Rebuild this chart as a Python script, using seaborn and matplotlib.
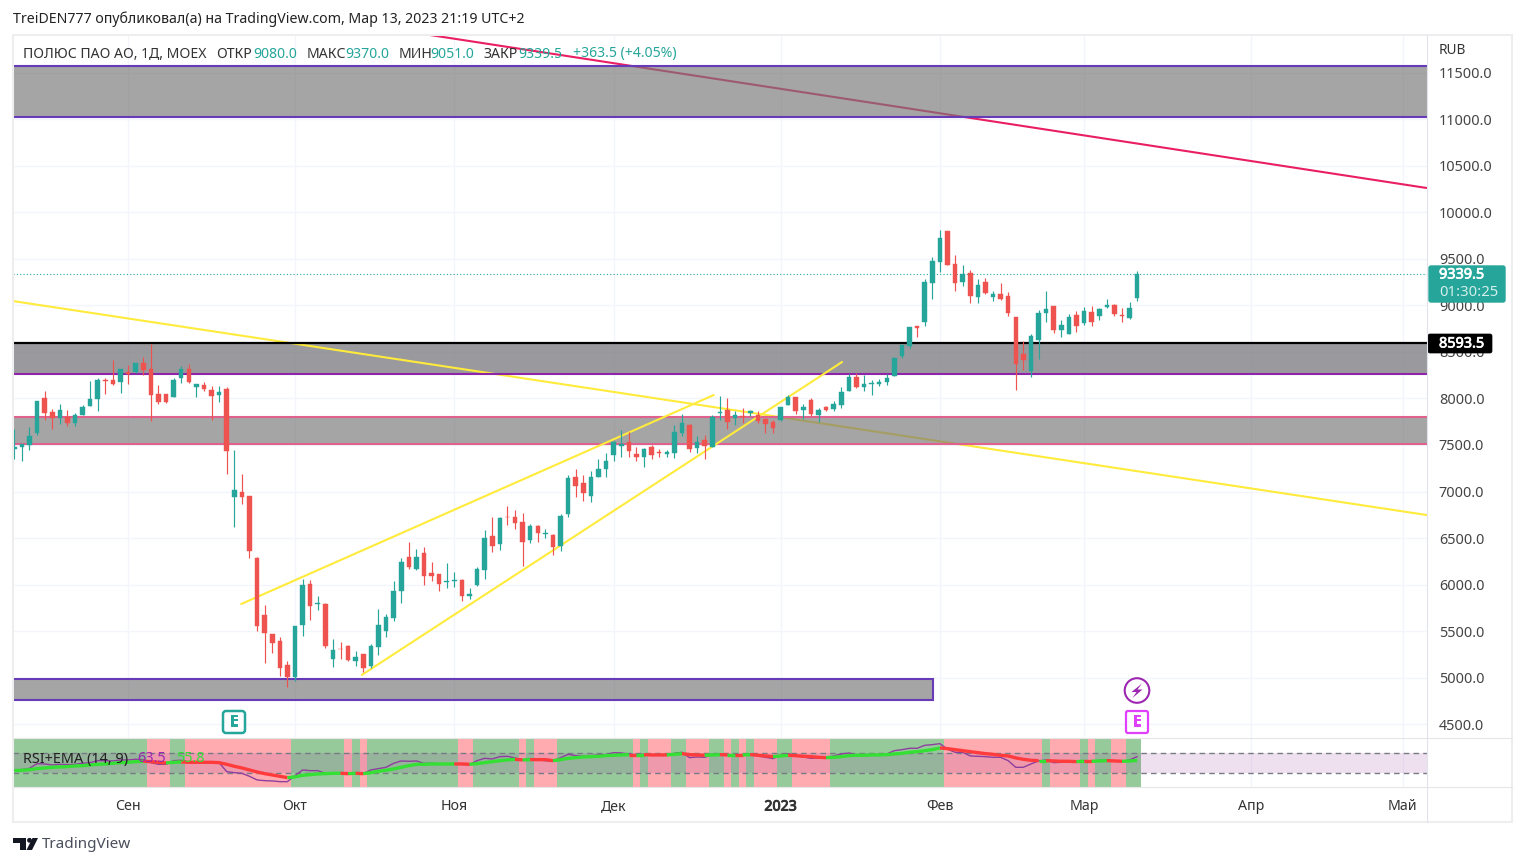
import matplotlib
matplotlib.use('Agg')
import matplotlib.pyplot as plt
import matplotlib.patheffects as pe
from matplotlib.patches import Rectangle, FancyBboxPatch, Circle, Polygon
import numpy as np
import pandas as pd
import seaborn as sns

# candles, one value per trading day
opens = [7455, 7477, 7502, 7627, 8007, 7849, 7789, 7799, 7731, 7821,
         7918, 7989, 8194, 8194, 8172, 8280, 8280, 8376, 8312, 8043,
         8043, 8014, 8215, 8312, 8122, 8140, 8093, 8036, 8097, 6939,
         7000, 6950, 6290, 5678, 5470, 5398, 5140, 5011, 5570, 6011,
         5789, 5796, 5204, 5312, 5337, 5183, 5258, 5129, 5333, 5506,
         5645, 5936, 6301, 6172, 6344, 6129, 6118, 6025, 6036, 6054,
         5882, 6000, 6161, 6527, 6441, 6731, 6731, 6677, 6480, 6634,
         6548, 6538, 6419, 6753, 7151, 7086, 6957, 7158, 7237, 7387,
         7484, 7527, 7398, 7366, 7473, 7419, 7398, 7409, 7624, 7710,
         7462, 7548, 7473, 7839, 7871, 7792, 7806, 7839, 7817, 7774,
         7742, 7763, 7925, 8011, 7871, 7978, 7817, 7903, 7882, 7925,
         8075, 8226, 8118, 8158, 8151, 8179, 8240, 8452, 8559, 8774,
         8817, 9236, 9462, 9796, 9441, 9247, 9344, 9086, 9247, 9086,
         9118, 9097, 8871, 8473, 8290, 8624, 8914, 8989, 8731, 8688,
         8892, 8806, 8925, 8882, 8978, 9000, 8892, 8860, 9080]
closes = [7473, 7505, 7599, 7971, 7842, 7792, 7878, 7735, 7817, 7903,
          7996, 8194, 8186, 8158, 8312, 8265, 8376, 8301, 8036, 7957,
          7957, 8201, 8312, 8172, 8151, 8097, 8025, 8065, 7434, 7011,
          6939, 6359, 5559, 5477, 5377, 5101, 5004, 5559, 6000, 5774,
          5807, 5344, 5301, 5305, 5190, 5226, 5108, 5344, 5570, 5656,
          5936, 6247, 6194, 6301, 6097, 6097, 6011, 6043, 6054, 5882,
          5903, 6172, 6505, 6419, 6710, 6724, 6667, 6462, 6634, 6559,
          6559, 6409, 6742, 7140, 7054, 6989, 7151, 7237, 7333, 7527,
          7505, 7430, 7366, 7452, 7387, 7409, 7419, 7634, 7731, 7452,
          7527, 7484, 7796, 7849, 7742, 7817, 7799, 7860, 7753, 7720,
          7677, 7903, 8011, 7860, 7903, 7828, 7871, 7871, 7935, 8065,
          8226, 8118, 8151, 8165, 8179, 8215, 8430, 8570, 8763, 8756,
          9247, 9473, 9720, 9430, 9236, 9333, 9097, 9215, 9129, 9118,
          9064, 8914, 8366, 8409, 8667, 8914, 8957, 8731, 8785, 8871,
          8774, 8935, 8817, 8957, 9000, 8903, 8882, 8968, 9339.5]
highs = [7674, 7513, 7692, 7971, 8075, 7889, 7943, 7871, 7846, 7932,
         8183, 8222, 8222, 8409, 8312, 8355, 8376, 8444, 8588, 8140,
         8043, 8215, 8344, 8373, 8158, 8172, 8129, 8136, 8122, 7441,
         7183, 6950, 6294, 5785, 5470, 5441, 5183, 5559, 6061, 6050,
         5882, 5799, 5416, 5387, 5355, 5290, 5258, 5362, 5742, 5685,
         6043, 6287, 6462, 6387, 6409, 6247, 6118, 6237, 6140, 6065,
         5968, 6194, 6591, 6721, 6721, 6839, 6796, 6774, 6656, 6645,
         6602, 6548, 6763, 7172, 7237, 7172, 7215, 7344, 7409, 7538,
         7656, 7634, 7473, 7462, 7495, 7452, 7441, 7710, 7828, 7720,
         7591, 7602, 7817, 8022, 8000, 7860, 7892, 7871, 7860, 7785,
         7763, 7903, 8032, 8011, 7935, 8000, 7892, 7914, 7968, 8118,
         8258, 8269, 8247, 8194, 8204, 8258, 8441, 8570, 8763, 8774,
         9287, 9516, 9806, 9796, 9538, 9430, 9376, 9279, 9290, 9150,
         9236, 9140, 8871, 8613, 8688, 8946, 9150, 8989, 8839, 8903,
         8935, 8978, 8989, 8968, 9064, 9011, 8968, 9032, 9370]
lows = [7344, 7326, 7441, 7602, 7771, 7667, 7720, 7706, 7706, 7817,
        7914, 7860, 8043, 8140, 8057, 8151, 8272, 8247, 7753, 7939,
        7950, 8011, 8165, 8161, 8011, 8079, 7767, 7957, 7190, 6617,
        6864, 6290, 5498, 5154, 5269, 5022, 4896, 4961, 5452, 5624,
        5731, 5316, 5118, 5204, 5179, 5129, 5065, 5108, 5247, 5441,
        5613, 5807, 6165, 6161, 6000, 6043, 5936, 5968, 5979, 5828,
        5850, 5989, 6065, 6355, 6376, 6645, 6602, 6204, 6452, 6462,
        6505, 6323, 6366, 6731, 6936, 6903, 6882, 7151, 7161, 7323,
        7366, 7366, 7323, 7258, 7344, 7366, 7366, 7355, 7591, 7419,
        7409, 7344, 7473, 7763, 7667, 7710, 7731, 7806, 7738, 7624,
        7624, 7753, 7925, 7828, 7774, 7806, 7742, 7860, 7860, 7892,
        8075, 8108, 8075, 8032, 8133, 8140, 8237, 8430, 8538, 8656,
        8774, 9064, 9355, 9430, 9150, 9204, 9021, 9021, 9118, 9043,
        9054, 8882, 8086, 8301, 8226, 8419, 8817, 8699, 8656, 8688,
        8710, 8785, 8774, 8839, 8968, 8882, 8817, 8849, 9051]

# RSI pane
rsi_values = [36.7, 37.3, 40, 49.3, 48.7, 46.7, 48, 47.3, 48, 50,
              51.3, 55.3, 55.3, 54.7, 56.7, 56.7, 58, 57.3, 51.3, 48,
              48, 55.3, 56, 52.7, 52, 51.3, 51.3, 51.3, 33.3, 31.3,
              30, 24, 16.7, 15.3, 14.7, 13.3, 13.3, 25.3, 36.7, 35.3,
              35.3, 30, 30, 31.3, 28, 31.3, 29.3, 36.7, 39.3, 42,
              50, 54.7, 54, 54.7, 50, 50, 48.7, 48.7, 49.3, 48,
              47.3, 55.3, 60, 58.7, 63.3, 64, 60.7, 56.7, 58.7, 56.7,
              55.3, 54, 61.3, 68, 65.3, 64, 65.3, 66.7, 67.3, 71.3,
              70.7, 68.7, 66.7, 68, 66, 66, 66.7, 70, 72, 61.3,
              62.7, 62, 68, 68.7, 66, 66.7, 66, 69.3, 64.7, 62,
              59.3, 66, 69.3, 64.7, 62.7, 60, 60.7, 60.7, 64.7, 68.7,
              70.7, 66.7, 66, 66.7, 67.3, 68.7, 75.3, 77.3, 80, 80,
              86, 87.3, 89.3, 78, 72, 72, 64.7, 64, 63.3, 62,
              62, 55.3, 42, 42, 48.7, 54.7, 56.7, 51.3, 52, 53.3,
              53.3, 55.3, 54, 56, 56.7, 54.7, 53.3, 56.7, 63.5]
ema_values = [35.3, 36, 37.3, 39.3, 40.7, 42, 42.7, 43.3, 44.7, 45.3,
              46.7, 48, 48.7, 50, 51.3, 52, 53.3, 54, 53.3, 52,
              50.7, 52, 52.7, 52, 52, 52, 52, 51.3, 48, 44,
              40.7, 36.7, 32.7, 29.3, 26.7, 24, 21.3, 22.7, 26, 27.3,
              28.7, 29.3, 30, 30, 29.3, 30, 29.3, 31.3, 34, 36,
              38.7, 42, 45.3, 48, 48, 48.7, 48.7, 48.7, 48.7, 48.7,
              48, 49.3, 51.3, 53.3, 55.3, 56.7, 58, 56.7, 57.3, 57.3,
              57.3, 55.3, 57.3, 60, 61.3, 62.7, 63.3, 64, 65.3, 66,
              66.7, 67.3, 67.3, 67.3, 66.7, 66.7, 66.7, 68, 69.3, 67.3,
              66.7, 66, 66.7, 67.3, 66.7, 66.7, 66.7, 67.3, 66, 64.7,
              63.3, 64.7, 66, 65.3, 64, 63.3, 62, 61.3, 62, 63.3,
              65.3, 66, 66, 66.7, 66.7, 67.3, 68.7, 70, 72, 73.3,
              75.3, 77.3, 80.7, 79.3, 77.3, 75.3, 73.3, 71.3, 69.3, 68,
              66, 64.7, 60.7, 58, 56, 55.3, 55.3, 54.7, 54, 54,
              53.3, 54, 54, 54.7, 55.3, 54.7, 54, 54.7, 55.8]
# lengths of the alternating green / red runs, first run is green
rsi_runs = [18, 3, 2, 14, 7, 1, 1, 1, 12, 2, 6, 1, 1, 3, 10, 1, 1, 3, 2, 3, 2,
            1, 1, 1, 1, 3, 2, 5, 15, 13, 1, 4, 1, 1, 2, 2, 2]

price_ticks = [4500, 5000, 5500, 6000, 6500, 7000, 7500, 8000, 8500, 9000,
               9500, 10000, 10500, 11000, 11500]
month_bars = [15, 37, 58, 79, 101, 122, 141, 163, 183]
month_labels = ['Сен', 'Окт', 'Ноя', 'Дек', '2023', 'Фев', 'Мар', 'Апр', 'Май']

# zones and drawn lines: bar number and price
red_line_bars = [54.8, 186.2]
red_line_prices = [11904, 10260]
fall_line_bars = [-0.17, 186.2]
fall_line_prices = [9046, 6747]
upper_channel_bars = [29.9, 92.2]
upper_channel_prices = [5791, 8037]
lower_channel_bars = [45.8, 109.1]
lower_channel_prices = [5029, 8391]

GREEN = '#26a69a'
RED = '#ef5350'
ZONE = (0.47, 0.47, 0.47, 0.667)
PURPLE_EDGE = '#673ab7'
X_LEFT, X_RIGHT = -0.17, 186.2

sns.set_theme(style='white')
plt.rcParams['font.family'] = ['Noto Sans', 'DejaVu Sans']


def heavy(txt, color, width=0.5):
    # fake a heavier weight, the installed regular file is all we get here
    txt.set_path_effects([pe.withStroke(linewidth=width, foreground=color)])


df = pd.DataFrame({'bar': range(len(opens)), 'open': opens, 'close': closes,
                   'high': highs, 'low': lows})
df['bottom'] = df[['open', 'close']].min(axis=1)
df['body'] = (df['close'] - df['open']).abs()
df['up'] = df['close'] >= df['open']

fig = plt.figure(figsize=(15.25, 8.66), dpi=100, facecolor='white')
W, H = 1525, 866
ax = fig.add_axes([13 / W, 1 - 738 / H, (1427 - 13) / W, (738 - 35) / H])
rsi_ax = fig.add_axes([13 / W, 1 - 787 / H, (1427 - 13) / W, (787 - 738) / H])

# main pane
for side, color in [(True, GREEN), (False, RED)]:
    part = df[df['up'] == side]
    ax.vlines(part['bar'], part['low'], part['high'], color=color, lw=0.85, zorder=5)
    sns.barplot(data=part, x='bar', y='body', bottom=part['bottom'].values, native_scale=True,
                color=color, saturation=1, width=0.6, errorbar=None, ax=ax,
                edgecolor=color, linewidth=0.3, zorder=6)

ax.plot(red_line_bars, red_line_prices, color='#e91e63', lw=1.5, zorder=1)
ax.plot(fall_line_bars, fall_line_prices, color='#ffeb3b', lw=1.5, zorder=1)
ax.plot(upper_channel_bars, upper_channel_prices, color='#ffeb3b', lw=1.5, zorder=3)
ax.plot(lower_channel_bars, lower_channel_prices, color='#ffeb3b', lw=1.5, zorder=3)

# zones
ax.axhspan(8262, 8594, facecolor=(0.44, 0.44, 0.46, 0.7), lw=0, zorder=0.8)
ax.axhline(8593.5, color='black', lw=1.6, zorder=2.5)
ax.axhline(8262, color='#8e24aa', lw=1.5, zorder=2.5)
ax.axhspan(11021, 11571, facecolor=ZONE, lw=0, zorder=2)
ax.axhline(11571, color=PURPLE_EDGE, lw=1.5, zorder=2.5)
ax.axhline(11021, color=PURPLE_EDGE, lw=1.5, zorder=2.5)
ax.axhspan(7510, 7800, facecolor=ZONE, lw=0, zorder=2)
ax.axhline(7800, color='#e0608e', lw=1.5, zorder=2.5)
ax.axhline(7510, color='#e0608e', lw=1.5, zorder=2.5)
ax.add_patch(Rectangle((X_LEFT, 4760), 121.1 - X_LEFT, 226, facecolor=ZONE,
                       edgecolor=PURPLE_EDGE, lw=1.5, zorder=2))

ax.axhline(closes[-1], color=GREEN, lw=0.8, ls=(0, (1, 2)), zorder=4)

ax.set_xlim(X_LEFT, X_RIGHT)
ax.set_ylim(4352, 11904)
ax.set_xticks(month_bars)
ax.set_xticklabels([])
ax.set_yticks(price_ticks)
ax.set_yticklabels([f'{p:.1f}' for p in price_ticks])
ax.yaxis.tick_right()
ax.tick_params(axis='y', length=0, pad=8.5, labelsize=10.4, labelcolor='#444444')
ax.tick_params(axis='x', length=0)
ax.grid(True, color='#f3f5fa', lw=1)
ax.set_axisbelow(True)
ax.set_xlabel('')
ax.set_ylabel('')
for s in ax.spines.values():
    s.set_visible(False)

# RSI pane, stripes then band then the two lines
start = 0
for k, run in enumerate(rsi_runs):
    rsi_ax.axvspan(start - 0.5, start + run - 0.5, lw=0, zorder=1,
                   facecolor='#97ca9b' if k % 2 == 0 else '#ffabb0')
    start += run
rsi_ax.axhspan(30, 70, facecolor='#96349f', alpha=0.15, lw=0, zorder=2)
for level in (30, 70):
    rsi_ax.axhline(level, color='#787b86', lw=1, ls=(0, (4, 3)), zorder=3)

bars = np.arange(len(rsi_values))
sns.lineplot(x=bars, y=rsi_values, color='#8e3f9e', lw=1, ax=rsi_ax, zorder=4)
start = 0
for k, run in enumerate(rsi_runs):
    a, b = max(start - 1, 0), start + run
    sns.lineplot(x=bars[a:b], y=ema_values[a:b], color='#33e033' if k % 2 == 0 else '#ff3b3b',
                 lw=2.4, ax=rsi_ax, zorder=5, solid_capstyle='butt')
    start += run

rsi_ax.set_xlim(X_LEFT, X_RIGHT)
rsi_ax.set_ylim(2.6, 100.6)
rsi_ax.set_yticks([])
rsi_ax.set_xticks(month_bars)
rsi_ax.set_xticklabels(month_labels)
rsi_ax.tick_params(axis='x', length=0, pad=9, labelsize=10.2, labelcolor='#333333')
heavy(rsi_ax.get_xticklabels()[4], '#333333', 0.7)
rsi_ax.grid(True, axis='x', color='#f3f5fa', lw=1)
rsi_ax.set_axisbelow(True)
rsi_ax.set_xlabel('')
rsi_ax.set_ylabel('')
for s in rsi_ax.spines.values():
    s.set_visible(False)

# overlay in pixels for frame, header, price boxes, markers
top = fig.add_axes([0, 0, 1, 1], zorder=20)
top.set_xlim(0, W)
top.set_ylim(H, 0)
top.axis('off')
top.patch.set_alpha(0)

FRAME = '#eeeeee'
top.add_patch(Rectangle((13, 35), 1499, 787, fill=False, edgecolor=FRAME, lw=1.5))
top.plot([1427, 1427], [35, 822], color='#e0e3eb', lw=0.8)
top.plot([13, 1512], [738, 738], color='#e6e6e6', lw=0.8)
top.plot([13, 1512], [787, 787], color='#e6e6e6', lw=0.8)

top.text(13, 19, 'TreiDEN777 опубликовал(а) на TradingView.com, Мар 13, 2023 21:19 UTC+2',
         fontsize=10.2, color='#222222', va='center')
DARK = '#333333'
header = [(23, 'ПОЛЮС ПАО АО, 1Д, MOEX', DARK), (216, 'ОТКР', DARK), (253, '9080.0', GREEN),
          (307, 'МАКС', DARK), (345, '9370.0', GREEN), (399, 'МИН', DARK), (430, '9051.0', GREEN),
          (483, 'ЗАКР', DARK), (518, '9339.5', GREEN), (573, '+363.5 (+4.05%)', GREEN)]
for x, label, color in header:
    top.text(x, 54, label, fontsize=10.1, color=color, va='center')

top.text(1439, 50, 'RUB', fontsize=9.8, color=DARK, va='center')

top.add_patch(FancyBboxPatch((1429, 266), 76, 36, boxstyle='round,pad=0,rounding_size=2',
                             facecolor=GREEN, edgecolor=GREEN, lw=1))
heavy(top.text(1439, 275, '9339.5', fontsize=10.4, color='white', va='center'), 'white', 0.5)
top.text(1439, 293, '01:30:25', fontsize=10.7, color='#d4eeeb', va='center')
top.add_patch(FancyBboxPatch((1428, 334), 64, 19, boxstyle='round,pad=0,rounding_size=2',
                             facecolor='black', edgecolor='black', lw=0.5))
heavy(top.text(1439, 344, '8593.5', fontsize=10.4, color='white', va='center'), 'white', 0.5)

top.text(23, 759, 'RSI+EMA (14, 9)', fontsize=10.4, color='#222222', va='center')
top.text(137, 759, '63.5', fontsize=10.4, color='#9c27b0', va='center')
top.text(176, 759, '55.8', fontsize=10.4, color='#33e033', va='center')

# event markers
top.add_patch(FancyBboxPatch((223, 711), 22, 22, boxstyle='round,pad=0,rounding_size=3',
                             facecolor='white', edgecolor=GREEN, lw=1.8))
heavy(top.text(234, 722, 'E', fontsize=11, color=GREEN, ha='center', va='center'), GREEN, 0.7)
top.add_patch(FancyBboxPatch((1126, 711), 22, 22, boxstyle='round,pad=0,rounding_size=2',
                             facecolor='white', edgecolor='#e040fb', lw=1.6))
heavy(top.text(1137, 722, 'E', fontsize=11, color='#e040fb', ha='center', va='center'), '#e040fb', 0.7)
top.add_patch(Circle((1137, 690.5), 12.3, facecolor='white', edgecolor='#9c27b0', lw=1.5))
top.add_patch(Polygon([(1142, 683.5), (1131.5, 692), (1136.5, 692), (1132.5, 698),
                       (1142.5, 689.5), (1137.5, 689.5)], closed=True, facecolor='#9c27b0', lw=0))

# TradingView logo
top.add_patch(Polygon([(13, 838), (26, 838), (26, 850), (20, 850), (20, 843), (13, 843)],
                      closed=True, facecolor='#131722', lw=0))
top.add_patch(Circle((29.5, 840.3), 2.4, facecolor='#131722', lw=0))
top.add_patch(Polygon([(32.5, 838), (38, 838), (32, 850), (26.5, 850)], closed=True,
                      facecolor='#131722', lw=0))
top.text(42, 844, 'TradingView', fontsize=11, color='#4a4f5c', va='center')

fig.savefig('out.png', dpi=100)
